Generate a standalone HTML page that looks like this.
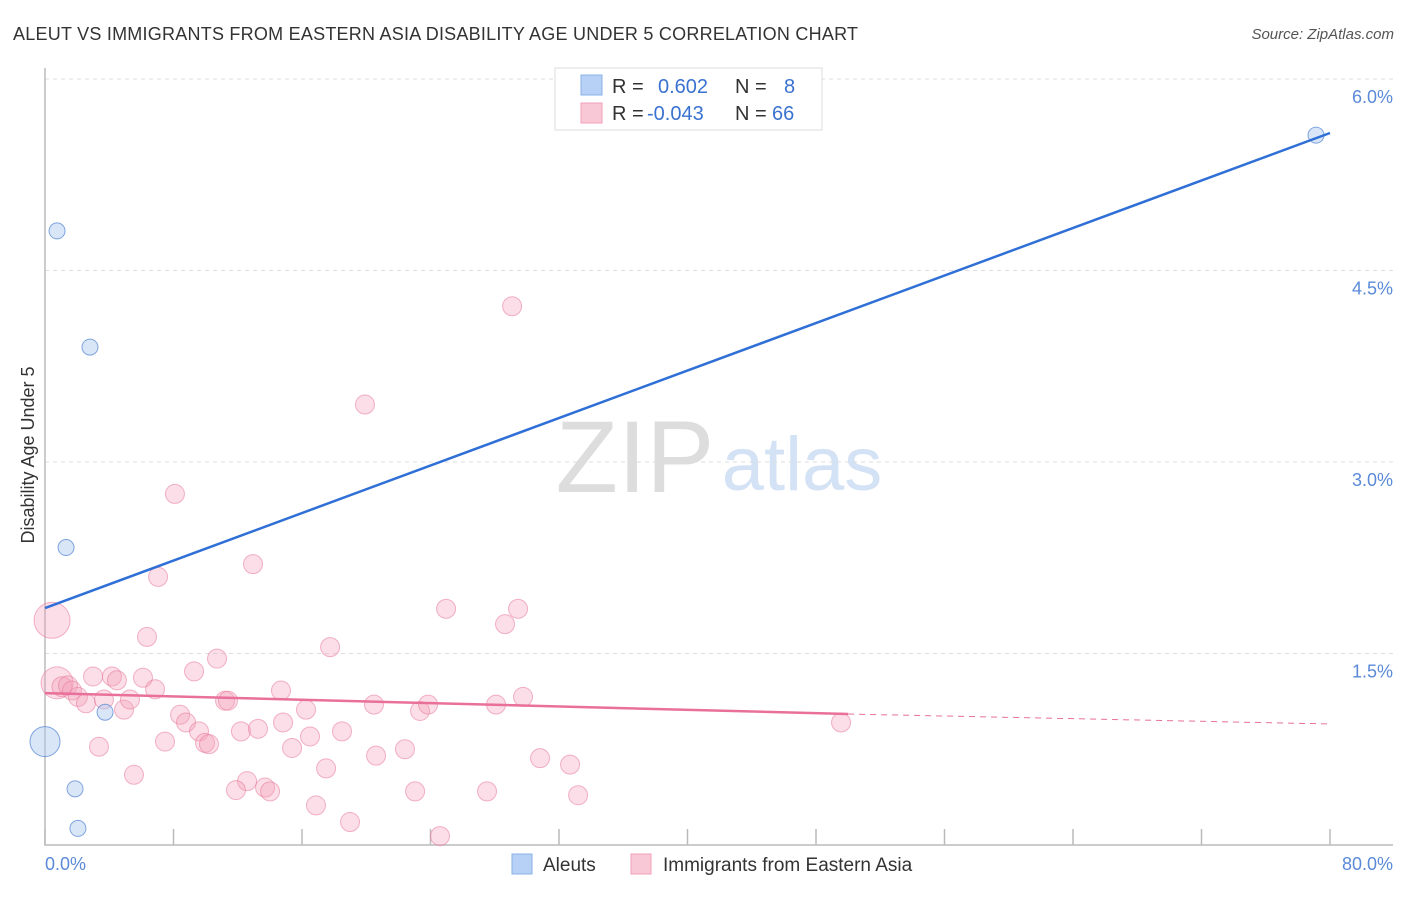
<!DOCTYPE html>
<html><head><meta charset="utf-8"><style>
body{margin:0;background:#fff;font-family:"Liberation Sans",sans-serif;}
svg text{font-family:"Liberation Sans",sans-serif;}
</style></head><body>
<svg id="c" width="1406" height="892" xmlns="http://www.w3.org/2000/svg">
<text x="13" y="40" font-size="18" fill="#333" textLength="845">ALEUT VS IMMIGRANTS FROM EASTERN ASIA DISABILITY AGE UNDER 5 CORRELATION CHART</text>
<text x="1394" y="39" font-size="15" fill="#555" text-anchor="end" font-style="italic">Source: ZipAtlas.com</text>
<text x="635" y="492" font-size="102" fill="#ddd" font-family="Liberation Serif" text-anchor="middle">ZIP</text>
<text x="802" y="490" font-size="76" fill="#d4e2f5" text-anchor="middle">atlas</text>
<text transform="translate(34,455) rotate(-90)" font-size="18" fill="#333" text-anchor="middle">Disability Age Under 5</text>
<g id="grid"></g><g id="pts"></g><g id="lines"></g>
<g>
<rect x="555" y="68" width="267" height="62" fill="#fff" stroke="#ddd"/>
<rect x="581" y="75" width="21" height="20" fill="#b7d0f5" stroke="#8ab0e8"/>
<rect x="581" y="103" width="21" height="20" fill="#f9c8d7" stroke="#f0a0b8"/>
<text x="612" y="93" font-size="20" fill="#333">R = <tspan fill="#3a72d0" x="658">0.602</tspan><tspan x="735" fill="#333">N =</tspan><tspan x="784" fill="#3a72d0">8</tspan></text>
<text x="612" y="120" font-size="20" fill="#333">R = <tspan fill="#3a72d0" x="647">-0.043</tspan><tspan x="735" fill="#333">N =</tspan><tspan x="772" fill="#3a72d0">66</tspan></text>
</g>
<rect x="512" y="854" width="20" height="20" fill="#b7d0f5" stroke="#8ab0e8"/>
<text x="543" y="871" font-size="19" fill="#333">Aleuts</text>
<rect x="631" y="854" width="20" height="20" fill="#f9c8d7" stroke="#f0a0b8"/>
<text x="663" y="871" font-size="19" fill="#333">Immigrants from Eastern Asia</text>
</svg>
<script>
const yTicks=[1.5,3.0,4.5,6.0];
const xTickLabels=["0.0%","80.0%"];
const aleutX=[0.75,2.80,1.31,3.74,0,1.87,2.05,79.13];
const aleutY=[4.81,3.90,2.33,1.04,0.81,0.44,0.13,5.56];
const aleutR=[8,8,8,8,15,8,8,8];
const immX=[0.44,0.75,1.06,1.43,1.68,2.05,2.55,2.99,3.67,4.17,4.48,4.92,5.29,3.36,5.54,6.10,6.35,6.85,7.04,7.47,8.09,8.41,8.78,9.28,9.59,9.96,10.21,10.71,11.21,11.39,12.20,12.58,11.89,12.95,13.26,13.70,14.01,14.69,14.82,15.38,16.25,16.50,16.87,17.50,17.75,18.49,18.99,19.92,20.48,20.61,22.41,23.04,23.35,23.85,24.59,24.97,27.52,28.08,28.64,29.08,29.45,29.76,30.82,32.69,33.19,49.56];
const immY=[1.76,1.27,1.24,1.25,1.21,1.16,1.11,1.32,1.14,1.32,1.29,1.06,1.14,0.77,0.55,1.31,1.63,1.22,2.10,0.81,2.75,1.02,0.96,1.36,0.89,0.80,0.79,1.46,1.13,1.13,0.89,0.50,0.43,2.20,0.91,0.45,0.42,1.21,0.96,0.76,1.06,0.85,0.31,0.60,1.55,0.89,0.18,3.45,1.10,0.70,0.75,0.42,1.05,1.10,0.07,1.85,0.42,1.10,1.73,4.22,1.85,1.16,0.68,0.63,0.39,0.96];
const immR=[18,16,10,9.5,9.5,9.5,9.5,9.5,9.5,9.5,9.5,9.5,9.5,9.5,9.5,9.5,9.5,9.5,9.5,9.5,9.5,9.5,9.5,9.5,9.5,9.5,9.5,9.5,9.5,9.5,9.5,9.5,9.5,9.5,9.5,9.5,9.5,9.5,9.5,9.5,9.5,9.5,9.5,9.5,9.5,9.5,9.5,9.5,9.5,9.5,9.5,9.5,9.5,9.5,9.5,9.5,9.5,9.5,9.5,9.5,9.5,9.5,9.5,9.5,9.5,9.5];
const aleutTrend=[1.856,5.577];
const immTrend=[1.19,1.026,0.948];
const X=v=>45+v/80*1285, Y=v=>845-v/1.5*191.5;
const NS="http://www.w3.org/2000/svg";
function mk(p,t,a){const e=document.createElementNS(NS,t);for(const k in a)e.setAttribute(k,a[k]);p.appendChild(e);return e;}
const g=document.getElementById('grid');
yTicks.forEach(v=>{
 const l=mk(g,'line',{x1:45,x2:1393,y1:Y(v),y2:Y(v),stroke:'#ddd','stroke-dasharray':'4,4'});
 
 
 const t=mk(g,'text',{x:1393,y:Y(v)+24,'font-size':18,fill:'#5a8ad8','text-anchor':'end'});t.textContent=v.toFixed(1)+'%';
 
 
});
const ax=mk(g,'path',{d:'M45 68V845H1393',fill:'none',stroke:'#bbb','stroke-width':1.5});


for(let i=0;i<=10;i++){const tk=mk(g,'line',{x1:X(i*8),x2:X(i*8),y1:829,y2:845,stroke:'#bbb','stroke-width':1.5});
 
 }
[[0,'start',45],[80,'end',1393]].forEach((a,i)=>{const t=mk(g,'text',{x:a[2],y:870,'font-size':18,fill:'#5a8ad8','text-anchor':a[1]});t.textContent=xTickLabels[i];
 
 });
const p=document.getElementById('pts');
immX.forEach((x,i)=>{const c=mk(p,'circle',{cx:X(x),cy:Y(immY[i]),r:immR[i],fill:'rgba(244,160,186,0.35)',stroke:'rgba(232,120,155,0.55)'});
 
 });
aleutX.forEach((x,i)=>{const c=mk(p,'circle',{cx:X(x),cy:Y(aleutY[i]),r:aleutR[i],fill:'rgba(170,200,240,0.45)',stroke:'rgba(80,130,210,0.7)'});
 
 });
const L=document.getElementById('lines');
const b=mk(L,'line',{x1:X(0),y1:Y(aleutTrend[0]),x2:X(80),y2:Y(aleutTrend[1]),stroke:'#2f6fd6','stroke-width':2.5});


const r1=mk(L,'line',{x1:X(0),y1:Y(immTrend[0]),x2:X(50),y2:Y(immTrend[1]),stroke:'#e8709a','stroke-width':2.5});


const r2=mk(L,'line',{x1:X(50),y1:Y(immTrend[1]),x2:X(80),y2:Y(immTrend[2]),stroke:'#e8709a','stroke-width':1,'stroke-dasharray':'6,5'});


</script>
</body></html>
